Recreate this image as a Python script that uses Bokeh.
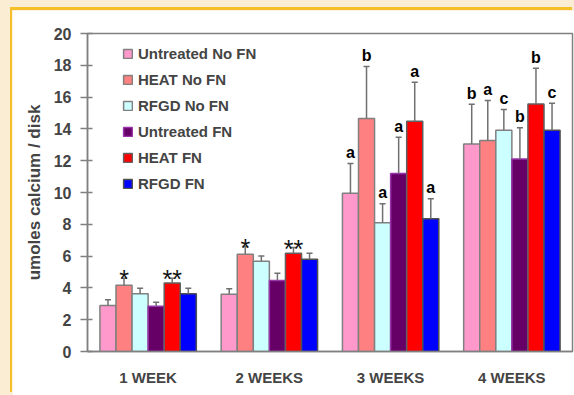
from bokeh.plotting import figure
from bokeh.models import Range1d, FactorRange, ColumnDataSource, FixedTicker
from bokeh.transform import dodge
from bokeh.core.properties import value
from bokeh.embed import file_html
from bokeh.resources import INLINE

weeks = ["1 WEEK", "2 WEEKS", "3 WEEKS", "4 WEEKS"]
series = ["Untreated No FN", "HEAT No FN", "RFGD No FN", "Untreated FN", "HEAT FN", "RFGD FN"]

untreated_nofn = [2.90, 3.60, 9.95, 13.05]
heat_nofn = [4.17, 6.12, 14.65, 13.27]
rfgd_nofn = [3.63, 5.68, 8.10, 13.92]
untreated_fn = [2.85, 4.47, 11.20, 12.10]
heat_fn = [4.31, 6.18, 14.48, 15.56]
rfgd_fn = [3.63, 5.80, 8.35, 13.92]

err_untreated_nofn = [0.35, 0.34, 1.87, 2.50]
err_heat_nofn = [0.43, 0.48, 3.27, 2.52]
err_rfgd_nofn = [0.35, 0.32, 1.19, 1.30]
err_untreated_fn = [0.25, 0.45, 2.27, 1.98]
err_heat_fn = [0.29, 0.36, 2.46, 2.26]
err_rfgd_fn = [0.35, 0.38, 1.25, 1.70]

lab_untreated_nofn = ["", "", "a", "b"]
lab_heat_nofn = ["*", "*", "b", "a"]
lab_rfgd_nofn = ["", "", "a", "c"]
lab_untreated_fn = ["", "", "a", "b"]
lab_heat_fn = ["**", "**", "a", "b"]
lab_rfgd_fn = ["", "", "a", "c"]

y_ticks = [0, 2, 4, 6, 8, 10, 12, 14, 16, 18, 20]

means = [untreated_nofn, heat_nofn, rfgd_nofn, untreated_fn, heat_fn, rfgd_fn]
errs = [err_untreated_nofn, err_heat_nofn, err_rfgd_nofn, err_untreated_fn, err_heat_fn, err_rfgd_fn]
labs = [lab_untreated_nofn, lab_heat_nofn, lab_rfgd_nofn, lab_untreated_fn, lab_heat_fn, lab_rfgd_fn]
fills = ["#FF99CC", "#FF8080", "#CCFFFF", "#660066", "#FF0000", "#0000FF"]
lines = ["#808080", "#808080", "#808080", "#9933AA", "#606060", "#505050"]

FONT = "Liberation Sans"

p = figure(width=562, height=385, x_range=FactorRange(factors=weeks, range_padding=0),
           y_range=Range1d(0, 20), output_backend="svg", toolbar_location=None,
           min_border_left=75, min_border_right=2, min_border_top=23, min_border_bottom=44)
p.x_range.factor_padding = 0
p.styles = {"box-shadow": "-2px -3px 0 0 #F5BF2A"}
p.background_fill_color = "white"
p.border_fill_color = "white"
p.outline_line_color = "#808080"
p.outline_line_width = 1.5
p.xgrid.visible = False
p.ygrid.visible = False

w = 0.1325
for i in range(6):
    off = (i - 2.5) * w
    letters = [s if "*" not in s else "" for s in labs[i]]
    stars = [s if "*" in s else "" for s in labs[i]]
    src = ColumnDataSource(dict(week=weeks, top=means[i],
                                etop=[m + e for m, e in zip(means[i], errs[i])],
                                letter=letters, star=stars))
    p.vbar(x=dodge("week", off, range=p.x_range), top="top", width=w, source=src,
           fill_color=fills[i], line_color=lines[i], line_width=1.5,
           legend_label=series[i])
    p.segment(x0=dodge("week", off, range=p.x_range), y0="top",
              x1=dodge("week", off, range=p.x_range), y1="etop",
              source=src, line_color="#707070", line_width=1.5)
    p.segment(x0=dodge("week", off - 0.025, range=p.x_range), y0="etop",
              x1=dodge("week", off + 0.025, range=p.x_range), y1="etop",
              source=src, line_color="#707070", line_width=1.5)
    p.text(x=dodge("week", off, range=p.x_range), y="etop", text="letter", source=src,
           text_align="center", text_baseline="alphabetic", y_offset=-11,
           text_font=value(FONT), text_font_style="bold", text_font_size="16px",
           text_color="black")
    p.text(x=dodge("week", off, range=p.x_range), y="etop", text="star", source=src,
           text_align="center", text_baseline="alphabetic", y_offset=1,
           text_font=value(FONT), text_font_style="normal", text_font_size="25px",
           text_color="#111111")

yax = p.yaxis[0]
yax.ticker = FixedTicker(ticks=y_ticks)
yax.axis_label = "umoles calcium / disk"
yax.axis_label_text_font = FONT
yax.axis_label_text_font_style = "bold"
yax.axis_label_text_font_size = "17px"
yax.axis_label_standoff = 7
yax.major_label_text_font = FONT
yax.major_label_text_font_style = "bold"
yax.major_label_text_font_size = "16px"
yax.major_label_standoff = 9
yax.major_tick_in = 5
yax.major_tick_out = 7
yax.minor_tick_line_color = None
yax.axis_line_color = "#808080"
yax.axis_line_width = 1.5
yax.major_tick_line_color = "#808080"
yax.major_tick_line_width = 1.5

xax = p.xaxis[0]
xax.major_label_text_font = FONT
xax.major_label_text_font_style = "bold"
xax.major_label_text_font_size = "15px"
xax.major_label_standoff = 17
xax.major_tick_in = 0
xax.major_tick_out = 0
xax.major_tick_line_color = None
xax.minor_tick_line_color = None
xax.axis_line_color = "#808080"
xax.axis_line_width = 1.5

lg = p.legend[0]
lg.location = (35, 158)
lg.padding = 0
lg.margin = 0
lg.spacing = 6
lg.glyph_width = 11
lg.glyph_height = 11
lg.label_height = 20
lg.label_standoff = 5
lg.border_line_color = None
lg.background_fill_alpha = 0
lg.label_text_font = FONT
lg.label_text_font_style = "bold"
lg.label_text_font_size = "15px"

html = file_html(p, INLINE)
html = html.replace("</head>",
                    "<style>html,body{overflow:hidden !important;}"
                    "body{background:#FBEDD3 !important;padding:10px 0 0 12px !important;}"
                    "</style></head>", 1)
open("out.html", "w").write(html)
